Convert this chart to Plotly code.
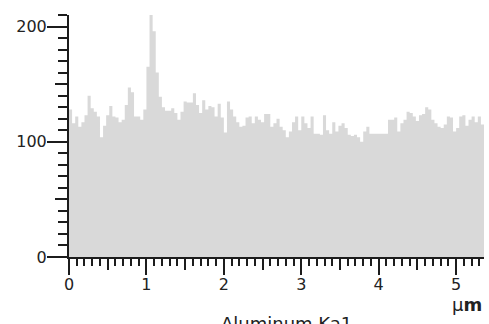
import numpy as np
import plotly.graph_objects as go

# Line-scan profile (counts), sampled every 0.04 µm from 0 to 5.36 µm
step_um = 0.04
counts = [
    128, 116, 122, 113, 117, 123, 140, 129, 126, 122,
    104, 114, 123, 131, 122, 121, 117, 119, 132, 147,
    143, 122, 122, 119, 128, 165, 212, 196, 160, 139,
    130, 127, 127, 129, 125, 119, 126, 135, 134, 134,
    142, 132, 125, 136, 128, 131, 130, 122, 133, 121,
    108, 135, 128, 122, 117, 113, 114, 121, 122, 116,
    122, 119, 117, 124, 124, 113, 116, 120, 113, 110,
    104, 109, 117, 122, 110, 122, 116, 112, 122, 107,
    107, 106, 123, 110, 107, 117, 109, 114, 116, 112,
    106, 105, 106, 104, 100, 109, 113, 107, 107, 107,
    107, 107, 107, 119, 119, 121, 109, 116, 119, 126,
    125, 122, 118, 123, 124, 130, 128, 119, 116, 113,
    112, 115, 122, 121, 109, 112, 122, 123, 114, 119,
    122, 117, 122, 115,
]
x_tick_vals = [0, 1, 2, 3, 4, 5]
y_tick_vals = [0, 100, 200]
title_text = "Aluminum Ka1"
unit_text = "µ<b>m</b>"

x = np.arange(len(counts) + 1) * step_um
y = counts + [counts[-1]]
x_max = x[-1]
y_max = 210

axis_color = "#1c1c1c"
font_family = "DejaVu Sans"

fig = go.Figure()
fig.add_trace(go.Scatter(
    x=x, y=y, mode="lines", line=dict(shape="hv", width=0, color="#d9d9d9"),
    fill="tozeroy", fillcolor="#d9d9d9", showlegend=False, hoverinfo="skip",
))
# dummy traces so the overlay axes (medium ticks) are drawn
fig.add_trace(go.Scatter(x=[None], y=[None], xaxis="x2", yaxis="y", showlegend=False))
fig.add_trace(go.Scatter(x=[None], y=[None], xaxis="x", yaxis="y2", showlegend=False))

common = dict(showgrid=False, zeroline=False, ticks="outside", tickcolor=axis_color)

fig.update_layout(
    width=489, height=324,
    margin=dict(l=69, r=5, t=15, b=67),
    paper_bgcolor="white", plot_bgcolor="white",
    font=dict(family=font_family, size=16, color="#222"),
    xaxis=dict(
        range=[0, x_max], tickvals=x_tick_vals, ticklen=16, tickwidth=2,
        showline=True, linewidth=2, linecolor=axis_color,
        minor=dict(dtick=0.1, tick0=0, ticklen=7, tickwidth=1.5, tickcolor=axis_color, ticks="outside"),
        tickfont=dict(size=16), ticklabelstandoff=-4, **common,
    ),
    xaxis2=dict(
        range=[0, x_max], overlaying="x", anchor="y", side="bottom",
        dtick=0.5, tick0=0, ticklen=12, tickwidth=1.5, showticklabels=False,
        showline=False, **common,
    ),
    yaxis=dict(
        range=[0, y_max], tickvals=y_tick_vals, ticklen=20, tickwidth=2,
        showline=True, linewidth=2, linecolor=axis_color,
        minor=dict(dtick=10, tick0=0, ticklen=9, tickwidth=1.5, tickcolor=axis_color, ticks="outside"),
        tickfont=dict(size=16), ticklabelstandoff=-3, **common,
    ),
    yaxis2=dict(
        range=[0, y_max], overlaying="y", anchor="x", side="left",
        dtick=50, tick0=0, ticklen=13, tickwidth=1.5, showticklabels=False,
        showline=False, **common,
    ),
    annotations=[
        dict(text=unit_text, xref="paper", yref="paper", x=1.0, y=-0.196,
             xanchor="right", yanchor="middle", showarrow=False,
             font=dict(size=18, color="#222", family=font_family)),
        dict(text=title_text, xref="paper", yref="paper", x=0.525, y=-0.225,
             xanchor="center", yanchor="top", showarrow=False,
             font=dict(size=18, color="#222", family=font_family)),
    ],
)

fig.write_html("out.html")
